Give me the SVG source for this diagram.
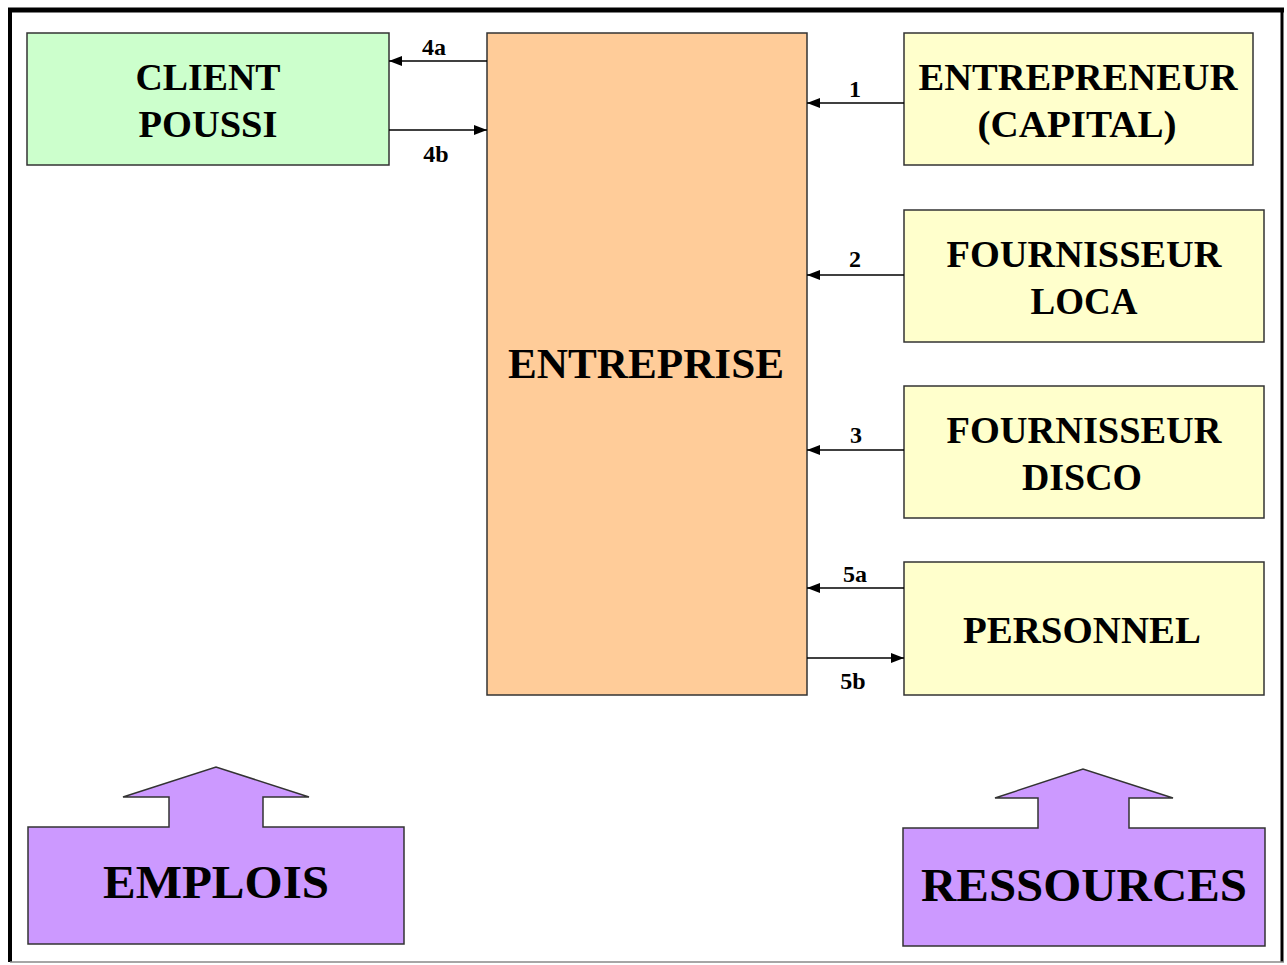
<svg xmlns="http://www.w3.org/2000/svg" width="1287" height="965" viewBox="0 0 1287 965">
<style>
.box{stroke:#333;stroke-width:1.5}
.t{font-family:'Liberation Serif',serif;font-weight:700;fill:#000;text-anchor:middle}
.lbl{font-family:'Liberation Serif',serif;font-weight:700;fill:#000;font-size:24px;text-anchor:middle}
.c{stroke:#000;stroke-width:1.5;fill:none;marker-end:url(#ah)}
</style>
<defs>
<marker id="ah" viewBox="0 0 13 10" refX="13" refY="5" markerWidth="13" markerHeight="10" markerUnits="userSpaceOnUse" orient="auto">
<path d="M0,0 L13,5 L0,10 Z" fill="#000"/>
</marker>
</defs>
<rect width="1287" height="965" fill="#fff"/>
<g id="frame">
<line x1="8" y1="10" x2="1284" y2="10" stroke="#000" stroke-width="5"/>
<line x1="10" y1="8" x2="10" y2="962" stroke="#000" stroke-width="4"/>
<line x1="1282" y1="8" x2="1282" y2="962" stroke="#000" stroke-width="3"/>
<line x1="10" y1="962" x2="1284" y2="962" stroke="#888" stroke-width="1.5"/>
</g>
<g id="client">
<rect class="box" x="27" y="33" width="362" height="132" fill="#CCFFCC"/>
<text class="t" x="208" y="90" font-size="37" textLength="145" lengthAdjust="spacingAndGlyphs">CLIENT</text>
<text class="t" x="208" y="137" font-size="37" textLength="139" lengthAdjust="spacingAndGlyphs">POUSSI</text>
</g>
<g id="entreprise">
<rect class="box" x="487" y="33" width="320" height="662" fill="#FFCC99"/>
<text class="t" x="646" y="378" font-size="42" textLength="276" lengthAdjust="spacingAndGlyphs">ENTREPRISE</text>
</g>
<g id="entrepreneur">
<rect class="box" x="904" y="33" width="349" height="132" fill="#FFFFCC"/>
<text class="t" x="1078" y="90" font-size="37" textLength="319" lengthAdjust="spacingAndGlyphs">ENTREPRENEUR</text>
<text class="t" x="1077" y="137" font-size="37" textLength="199" lengthAdjust="spacingAndGlyphs">(CAPITAL)</text>
</g>
<g id="fournisseur-loca">
<rect class="box" x="904" y="210" width="360" height="132" fill="#FFFFCC"/>
<text class="t" x="1084" y="267" font-size="37" textLength="275" lengthAdjust="spacingAndGlyphs">FOURNISSEUR</text>
<text class="t" x="1084" y="314" font-size="37" textLength="107" lengthAdjust="spacingAndGlyphs">LOCA</text>
</g>
<g id="fournisseur-disco">
<rect class="box" x="904" y="386" width="360" height="132" fill="#FFFFCC"/>
<text class="t" x="1084" y="443" font-size="37" textLength="275" lengthAdjust="spacingAndGlyphs">FOURNISSEUR</text>
<text class="t" x="1082" y="490" font-size="37" textLength="120" lengthAdjust="spacingAndGlyphs">DISCO</text>
</g>
<g id="personnel">
<rect class="box" x="904" y="562" width="360" height="133" fill="#FFFFCC"/>
<text class="t" x="1082" y="643" font-size="38" textLength="238" lengthAdjust="spacingAndGlyphs">PERSONNEL</text>
</g>
<g id="emplois">
<path class="box" d="M28,827 L169,827 L169,797 L123,797 L216,767 L309,797 L263,797 L263,827 L404,827 L404,944 L28,944 Z" fill="#CC99FF"/>
<text class="t" x="216" y="898" font-size="46" textLength="226" lengthAdjust="spacingAndGlyphs">EMPLOIS</text>
</g>
<g id="ressources">
<path class="box" d="M903,828 L1038,828 L1038,798 L995,798 L1083,769 L1173,798 L1129,798 L1129,828 L1265,828 L1265,946 L903,946 Z" fill="#CC99FF"/>
<text class="t" x="1084" y="901" font-size="46" textLength="326" lengthAdjust="spacingAndGlyphs">RESSOURCES</text>
</g>
<g id="connectors">
<line class="c" x1="487" y1="61" x2="389" y2="61"/>
<line class="c" x1="389" y1="130" x2="487" y2="130"/>
<line class="c" x1="904" y1="103" x2="807" y2="103"/>
<line class="c" x1="904" y1="275" x2="807" y2="275"/>
<line class="c" x1="904" y1="450" x2="807" y2="450"/>
<line class="c" x1="904" y1="588" x2="807" y2="588"/>
<line class="c" x1="807" y1="658" x2="904" y2="658"/>
<text class="lbl" x="434" y="55">4a</text>
<text class="lbl" x="436" y="162">4b</text>
<text class="lbl" x="855" y="97">1</text>
<text class="lbl" x="855" y="267">2</text>
<text class="lbl" x="856" y="443">3</text>
<text class="lbl" x="855" y="582">5a</text>
<text class="lbl" x="853" y="689">5b</text>
</g>
</svg>
